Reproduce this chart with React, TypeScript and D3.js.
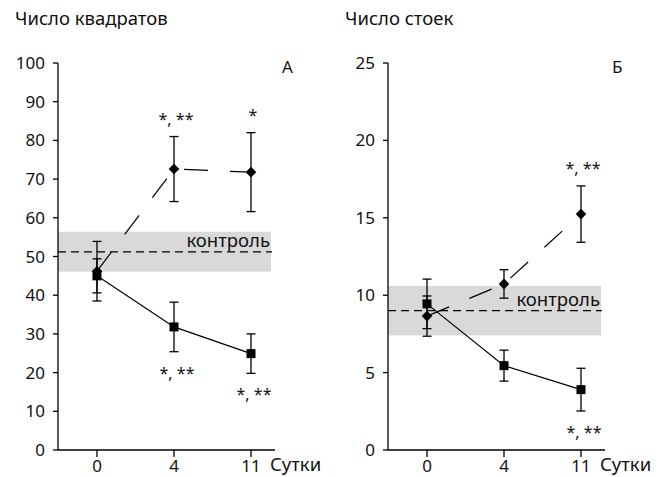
import React from "react";
import * as d3 from "d3";

// days after treatment
const days = ["0", "4", "11"];

// panel A — number of squares
const squaresA = [45.0, 31.8, 24.9];
const squaresAErr = [4.4, 6.4, 5.1];
const squaresANote = ["", "*, **", "*, **"];
const diamondsA = [46.2, 72.6, 71.8];
const diamondsAErr = [7.7, 8.4, 10.2];
const diamondsANote = ["", "*, **", "*"];
const controlA = 51.2;
const controlABand = [46.1, 56.4];
const ticksA = [0, 10, 20, 30, 40, 50, 60, 70, 80, 90, 100];

// panel Б — number of posts
const squaresB = [9.44, 5.45, 3.9];
const squaresBErr = [1.6, 1.0, 1.38];
const squaresBNote = ["", "", "*, **"];
const diamondsB = [8.65, 10.73, 15.24];
const diamondsBErr = [1.3, 0.92, 1.82];
const diamondsBNote = ["", "", "*, **"];
const controlB = 9.0;
const controlBBand = [7.4, 10.6];
const ticksB = [0, 5, 10, 15, 20, 25];

const FONT = "'Noto Sans', sans-serif";

const Panel = ({ x0, title, letter, yMax, ticks, squares, squaresErr, squaresNote, diamonds, diamondsErr, diamondsNote, control, band }) => {
  const axisX = 58;
  const xEnd = 275;
  const y = d3.scaleLinear().domain([0, yMax]).range([450, 63]);
  const x = d3.scalePoint().domain(days).range([97, 251]);

  const line = d3
    .line()
    .x((d, i) => x(days[i]))
    .y((d) => y(d));

  const errBar = (vals, errs, key) =>
    vals.map((v, i) => {
      const cx = x(days[i]);
      return (
        <g key={key + i} stroke="#000" strokeWidth={1.3}>
          <line x1={cx} x2={cx} y1={y(v + errs[i])} y2={y(v - errs[i])} />
          <line x1={cx - 4.5} x2={cx + 4.5} y1={y(v + errs[i])} y2={y(v + errs[i])} />
          <line x1={cx - 4.5} x2={cx + 4.5} y1={y(v - errs[i])} y2={y(v - errs[i])} />
        </g>
      );
    });

  return (
    <g transform={`translate(${x0},0)`} fontFamily={FONT} fill="#111">
      <text x={15} y={25} fontSize={18.5}>{title}</text>

      {/* control band */}
      <rect x={axisX} width={271 - axisX} y={y(band[1])} height={y(band[0]) - y(band[1])} fill="#d9d9d9" />
      <line x1={axisX} x2={272} y1={y(control)} y2={y(control)} stroke="#000" strokeWidth={1.3} strokeDasharray="8,5" />
      <text x={270} y={y(control) - 5} textAnchor="end" fontSize={18.5}>контроль</text>

      {/* axes */}
      <line x1={axisX} x2={axisX} y1={y(yMax)} y2={450} stroke="#000" strokeWidth={1.3} />
      <line x1={axisX} x2={xEnd} y1={450} y2={450} stroke="#000" strokeWidth={1.3} />
      {ticks.map((t) => (
        <g key={t}>
          <line x1={axisX - 5} x2={axisX} y1={y(t)} y2={y(t)} stroke="#000" strokeWidth={1.3} />
          <text x={45} y={y(t) + 6} textAnchor="end" fontSize={17}>{t}</text>
        </g>
      ))}
      {days.map((d) => (
        <g key={d}>
          <line x1={x(d)} x2={x(d)} y1={450} y2={457} stroke="#000" strokeWidth={1.3} />
          <text x={x(d)} y={472} textAnchor="middle" fontSize={17}>{d}</text>
        </g>
      ))}
      <text x={270} y={471} fontSize={18.5}>Сутки</text>
      <text x={282} y={73} fontSize={17}>{letter}</text>

      {/* diamonds, dashed */}
      <path d={line(diamonds)} fill="none" stroke="#000" strokeWidth={1.2} strokeDasharray="24,22" />
      {errBar(diamonds, diamondsErr, "de")}
      {diamonds.map((v, i) => (
        <path
          key={"dm" + i}
          d={d3.symbol(d3.symbolDiamond2, 72)()}
          transform={`translate(${x(days[i])},${y(v)})`}
          fill="#000"
        />
      ))}

      {/* squares, solid */}
      <path d={line(squares)} fill="none" stroke="#000" strokeWidth={1.2} />
      {errBar(squares, squaresErr, "se")}
      {squares.map((v, i) => (
        <rect key={"sq" + i} x={x(days[i]) - 4.5} y={y(v) - 4.5} width={9} height={9} fill="#000" />
      ))}

      {/* significance marks */}
      {diamondsNote.map((s, i) =>
        s ? (
          <text key={"dn" + i} x={x(days[i]) + 2} y={y(diamonds[i] + diamondsErr[i]) - 12} textAnchor="middle" fontSize={16}>
            {s}
          </text>
        ) : null
      )}
      {squaresNote.map((s, i) =>
        s ? (
          <text key={"sn" + i} x={x(days[i]) + 3} y={y(squares[i] - squaresErr[i]) + 27} textAnchor="middle" fontSize={16}>
            {s}
          </text>
        ) : null
      )}
    </g>
  );
};

export default function App() {
  return (
    <svg width={665} height={477} style={{ display: "block", position: "absolute", left: 0, top: 0, background: "#fff" }}>
      <Panel
        x0={0}
        title="Число квадратов"
        letter="А"
        yMax={100}
        ticks={ticksA}
        squares={squaresA}
        squaresErr={squaresAErr}
        squaresNote={squaresANote}
        diamonds={diamondsA}
        diamondsErr={diamondsAErr}
        diamondsNote={diamondsANote}
        control={controlA}
        band={controlABand}
      />
      <Panel
        x0={330}
        title="Число стоек"
        letter="Б"
        yMax={25}
        ticks={ticksB}
        squares={squaresB}
        squaresErr={squaresBErr}
        squaresNote={squaresBNote}
        diamonds={diamondsB}
        diamondsErr={diamondsBErr}
        diamondsNote={diamondsBNote}
        control={controlB}
        band={controlBBand}
      />
    </svg>
  );
}
